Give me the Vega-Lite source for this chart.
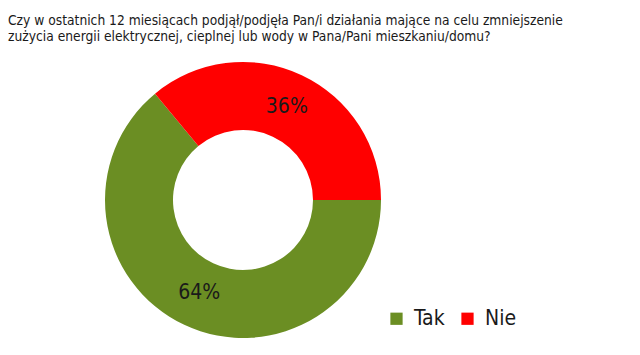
{
  "$schema": "https://vega.github.io/schema/vega-lite/v6.json",
  "autosize": "none",
  "width": 276,
  "height": 276,
  "padding": {"left": 105, "top": 62, "right": 259, "bottom": 17},
  "background": "white",
  "title": {
    "text": ["Czy w ostatnich 12 miesiącach podjął/podjęła Pan/i działania mające na celu zmniejszenie", "zużycia energii elektrycznej, cieplnej lub wody w Pana/Pani mieszkaniu/domu?"],
    "anchor": "start",
    "frame": "group",
    "dx": -97,
    "offset": 18,
    "limit": 0,
    "font": "DejaVu Sans Condensed",
    "fontSize": 13.7,
    "fontWeight": "normal",
    "lineHeight": 16.5,
    "color": "#1a1a1a"
  },
  "data": {"values": [
    {"answer": "Tak", "pct": 64, "label": "64%"},
    {"answer": "Nie", "pct": 36, "label": "36%"}
  ]},
  "encoding": {
    "theta": {"field": "pct", "type": "quantitative", "stack": true, "scale": {"range": [1.5708, 7.8540]}},
    "order": {"field": "pct", "type": "quantitative", "sort": "descending"}
  },
  "layer": [
    {
      "mark": {"type": "arc", "outerRadius": 138, "innerRadius": 70},
      "encoding": {
        "color": {
          "field": "answer", "type": "nominal",
          "scale": {"domain": ["Tak", "Nie"], "range": ["#6B8E23", "#FF0000"]},
          "legend": {
            "title": null,
            "orient": "none",
            "direction": "horizontal",
            "legendX": 281,
            "legendY": 246,
            "symbolType": "square",
            "symbolSize": 150,
            "symbolStrokeWidth": 0,
            "labelFont": "DejaVu Sans Condensed",
            "labelFontSize": 21,
            "labelColor": "#1a1a1a",
            "labelOffset": 7,
            "columnPadding": 12
          }
        }
      }
    },
    {
      "mark": {"type": "text", "radius": 103, "font": "DejaVu Sans Condensed", "fontSize": 21, "color": "#1a1a1a"},
      "encoding": {"text": {"field": "label"}}
    }
  ]
}
